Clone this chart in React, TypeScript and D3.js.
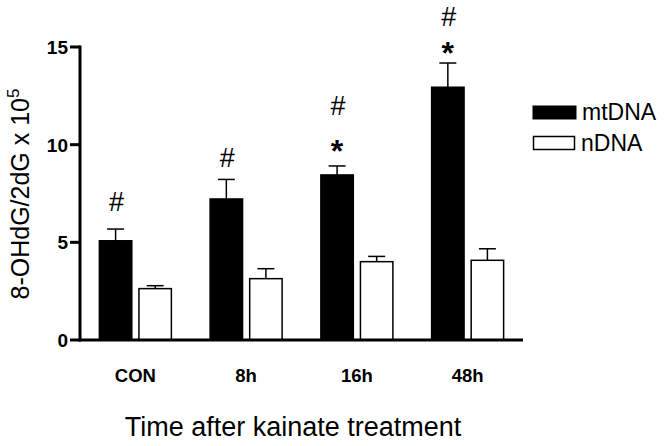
import React from "react";
import * as d3 from "d3";

const categories = ["CON", "8h", "16h", "48h"];
const series = ["mtDNA", "nDNA"];
const mtDNA = [5.08, 7.22, 8.45, 12.94];
const mtDNAErr = [0.6, 1.0, 0.46, 1.24];
const nDNA = [2.63, 3.14, 4.01, 4.08];
const nDNAErr = [0.15, 0.51, 0.27, 0.59];
const hashY = [6.6, 8.86, 11.52, 16.08];
const starY: (number | null)[] = [null, null, 9.98, 15.0];
const yTicks = [0, 5, 10, 15];

const FONT = "'Liberation Sans', Arial, Helvetica, sans-serif";

export default function App() {
  const W = 664, H = 446;
  const x0 = d3.scaleBand<string>().domain(categories).range([80, 523]).paddingInner(0).paddingOuter(0);
  const x1 = d3.scaleBand<string>().domain(series).range([0, 72]).paddingInner(0.18);
  const y = d3.scaleLinear().domain([0, 15]).range([340, 47]);
  const vals = [mtDNA, nDNA];
  const errs = [mtDNAErr, nDNAErr];
  const center = (c: string) => (x0(c) as number) + x0.bandwidth() / 2;

  return (
    <svg width={W} height={H} style={{ position: "absolute", left: 0, top: 0, background: "#fff" }} fontFamily={FONT}>
      <rect x={0} y={0} width={W} height={H} fill="#fff" />
      {categories.map((c, i) =>
        series.map((s, j) => {
          const bx = center(c) - 36 + (x1(s) as number);
          const bw = x1.bandwidth();
          const v = vals[j][i];
          const e = errs[j][i];
          const cx = bx + bw / 2;
          return (
            <g key={c + s}>
              <line x1={cx} x2={cx} y1={y(v)} y2={y(v + e)} stroke="#000" strokeWidth={1.5} />
              <line x1={cx - 8.5} x2={cx + 8.5} y1={y(v + e)} y2={y(v + e)} stroke="#000" strokeWidth={1.5} />
              <rect x={bx} y={y(v)} width={bw} height={y(0) - y(v)}
                fill={j === 0 ? "#000" : "#fff"} stroke="#000" strokeWidth={1.5} />
            </g>
          );
        })
      )}
      {categories.map((c, i) => {
        const cx = center(c) - 36 + (x1("mtDNA") as number) + x1.bandwidth() / 2;
        const sy = starY[i];
        return (
          <g key={"ann" + c}>
            <text x={cx + 1} y={y(hashY[i])} fontSize={27} textAnchor="middle">#</text>
            {sy !== null && (
              <text x={cx} y={y(sy) + 17} fontSize={32} fontWeight="bold" textAnchor="middle">*</text>
            )}
          </g>
        );
      })}
      {/* axes */}
      <line x1={80} x2={80} y1={y(15) - 1.5} y2={y(0) + 1.5} stroke="#000" strokeWidth={3} />
      <line x1={78.5} x2={523} y1={y(0)} y2={y(0)} stroke="#000" strokeWidth={3} />
      {yTicks.map((t) => (
        <g key={"t" + t}>
          <line x1={70} x2={80} y1={y(t)} y2={y(t)} stroke="#000" strokeWidth={3} />
          <text x={68} y={y(t) + 7} fontSize={19} fontWeight="bold" textAnchor="end">{t}</text>
        </g>
      ))}
      {categories.map((c) => (
        <text key={"c" + c} x={center(c)} y={382} fontSize={18.5} fontWeight="bold" textAnchor="middle">{c}</text>
      ))}
      <text x={293} y={436} fontSize={27} textAnchor="middle">Time after kainate treatment</text>
      <text transform={`translate(29, 194) rotate(-90)`} fontSize={25} textAnchor="middle">
        8-OHdG/2dG x 10<tspan fontSize={17} dy={-10}>5</tspan>
      </text>
      {/* legend */}
      <rect x={533} y={106} width={43} height={13} fill="#000" stroke="#000" strokeWidth={1} />
      <rect x={533.5} y={136.5} width={41} height={13} fill="#fff" stroke="#000" strokeWidth={1.5} />
      <text x={582} y={120} fontSize={23}>mtDNA</text>
      <text x={581} y={151} fontSize={23}>nDNA</text>
    </svg>
  );
}
